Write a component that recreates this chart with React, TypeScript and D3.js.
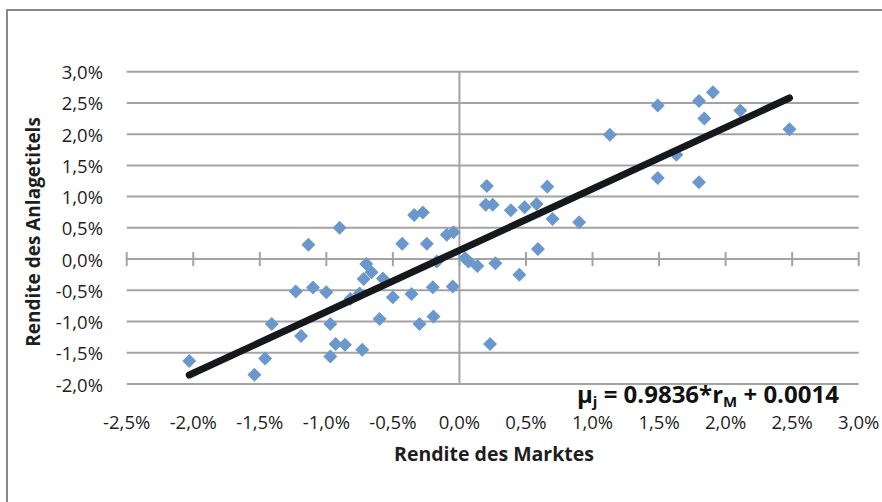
import React from "react";
import * as d3 from "d3";

const marketReturns = [
  -0.0203, -0.0154, -0.0146, -0.0141, -0.0119, -0.0123, -0.01135, -0.011, -0.01, -0.0097,
  -0.0097, -0.0093, -0.0086, -0.009, -0.0082, -0.0075, -0.0073, -0.0072, -0.007, -0.0066,
  -0.006, -0.00575, -0.005, -0.0043, -0.0036, -0.0034, -0.003, -0.00275, -0.00245, -0.002,
  -0.00195, -0.0017, -0.00095, -0.00045, -0.0005, 0.00043, 0.00068, 0.00135, 0.00206, 0.00198,
  0.0025, 0.0027, 0.0023, 0.00386, 0.0045, 0.0049, 0.0058, 0.0059, 0.0066, 0.007,
  0.009, 0.0113, 0.0149, 0.0149, 0.0163, 0.018, 0.0184, 0.018, 0.01905, 0.0211, 0.0248,
];
const assetReturns = [
  -0.0163, -0.0185, -0.0159, -0.0104, -0.0123, -0.0052, 0.0023, -0.00455, -0.0053, -0.0104,
  -0.0156, -0.0136, -0.0137, 0.005, -0.0064, -0.0055, -0.0145, -0.0032, -0.0008, -0.0021,
  -0.0096, -0.0031, -0.0061, 0.00245, -0.0056, 0.00705, -0.0104, 0.00745, 0.00245, -0.0045,
  -0.0092, -0.0004, 0.0039, 0.0043, -0.0044, 0.00015, -0.0004, -0.0011, 0.0117, 0.0087,
  0.0087, -0.00065, -0.0136, 0.0078, -0.0025, 0.0083, 0.0088, 0.0016, 0.0116, 0.0064,
  0.0059, 0.0199, 0.0246, 0.013, 0.0167, 0.0253, 0.0225, 0.0123, 0.0267, 0.0238, 0.0208,
];
const xTicks = [-0.025, -0.02, -0.015, -0.01, -0.005, 0, 0.005, 0.01, 0.015, 0.02, 0.025, 0.03];
const yTicks = [-0.02, -0.015, -0.01, -0.005, 0, 0.005, 0.01, 0.015, 0.02, 0.025, 0.03];
const slope = 0.9836;
const intercept = 0.0014;
const xTitle = "Rendite des Marktes";
const yTitle = "Rendite des Anlagetitels";

const fmt = (v: number) => (v * 100).toFixed(1).replace(".", ",").replace("-0,0", "0,0") + "%";

export default function App() {
  const x = d3.scaleLinear().domain([-0.025, 0.03]).range([126.7, 858.7]);
  const y = d3.scaleLinear().domain([-0.02, 0.03]).range([384, 71.7]);
  const font = "'Open Sans', sans-serif";
  const grid = "#a3a3a3";
  const xMin = d3.min(marketReturns) as number;
  const xMax = d3.max(marketReturns) as number;
  const line = d3
    .line<number>()
    .x((d) => x(d))
    .y((d) => y(slope * d + intercept));
  const diamond = d3.symbol().type(d3.symbolDiamond2).size(125)();
  return (
    <svg
      width={882}
      height={502}
      style={{ position: "absolute", left: 0, top: 0, background: "#fff" }}
    >
      <rect x={7} y={10} width={900} height={520} fill="#fff" stroke="#888" strokeWidth={2} />
      {yTicks
        .filter((t) => t !== 0)
        .map((t) => (
          <line key={t} x1={x(-0.025)} x2={x(0.03)} y1={y(t)} y2={y(t)} stroke={grid} strokeWidth={2} />
        ))}
      <line x1={x(0)} x2={x(0)} y1={y(0.03)} y2={y(-0.02)} stroke={grid} strokeWidth={2} />
      <line x1={x(-0.025)} x2={x(0.03)} y1={y(0)} y2={y(0)} stroke={grid} strokeWidth={2} />
      {xTicks.map((t) => (
        <line key={t} x1={x(t)} x2={x(t)} y1={y(0) - 7} y2={y(0) + 7} stroke={grid} strokeWidth={2} />
      ))}
      {yTicks.map((t) => (
        <text
          key={t}
          x={103}
          y={y(t)}
          textAnchor="end"
          dominantBaseline="central"
          fontFamily={font}
          fontSize={18.5}
          fill="#1e1e1e"
        >
          {fmt(t)}
        </text>
      ))}
      {xTicks.map((t) => (
        <text
          key={t}
          x={x(t)}
          y={421.5}
          textAnchor="middle"
          dominantBaseline="central"
          fontFamily={font}
          fontSize={18.5}
          fill="#1e1e1e"
        >
          {fmt(t)}
        </text>
      ))}
      {marketReturns.map((m, i) => (
        <path
          key={i}
          d={diamond || ""}
          transform={`translate(${x(m)},${y(assetReturns[i])})`}
          fill="#6a98cd"
        />
      ))}
      <path
        d={line([xMin, xMax]) || ""}
        stroke="#15181c"
        strokeWidth={7}
        strokeLinecap="round"
        fill="none"
      />
      <text x={577} y={403} fontFamily={font} fontWeight="bold" fontSize={24} fill="#111">
        μ<tspan fontSize={15} dy={4}>j</tspan>
        <tspan dy={-4}> = 0.9836*r</tspan>
        <tspan fontSize={15} dy={4}>M</tspan>
        <tspan dy={-4}> + 0.0014</tspan>
      </text>
      <text
        x={494}
        y={453}
        textAnchor="middle"
        dominantBaseline="central"
        fontFamily={font}
        fontWeight="bold"
        fontSize={19.5}
        fill="#1e1e1e"
      >
        {xTitle}
      </text>
      <text
        transform="translate(33,232) rotate(-90)"
        textAnchor="middle"
        dominantBaseline="central"
        fontFamily={font}
        fontWeight="bold"
        fontSize={19}
        fill="#1e1e1e"
      >
        {yTitle}
      </text>
    </svg>
  );
}
